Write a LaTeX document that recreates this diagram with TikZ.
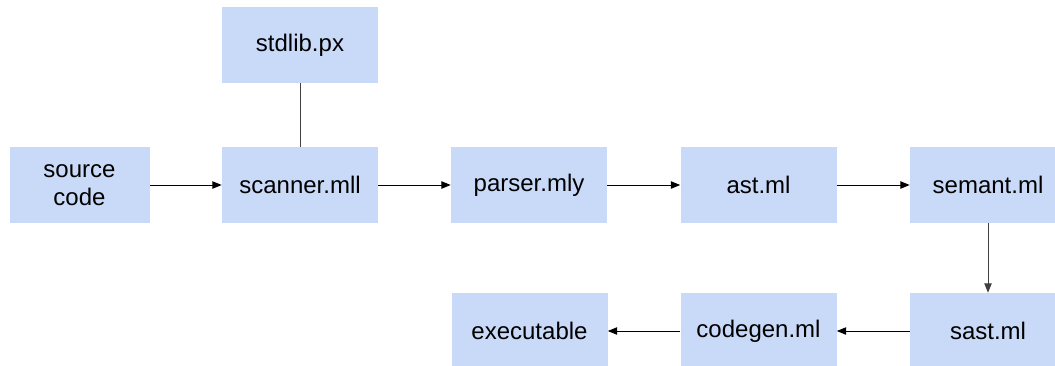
\documentclass[tikz,border=0pt]{standalone}
\usepackage{fontspec}
\setmainfont{Liberation Sans}
\usepackage{tikz}
\usetikzlibrary{arrows.meta}
\usepackage{xcolor}
\definecolor{stageblue}{RGB}{201,218,248}
\tikzset{
  stagebox/.style={fill=stageblue,draw=none,inner sep=0pt,align=center,
    minimum width=117pt,minimum height=57pt,font=\fontsize{18}{21}\selectfont},
  flow/.style={-{Triangle[length=7pt,width=5.5pt]},line width=0.75pt,black},
}

\begin{document}
\begin{tikzpicture}[x=0.75pt,y=-0.75pt]
        \useasboundingbox (0,0) rectangle (1055,365);
        % front end
        \node[stagebox,minimum width=105pt] (src)     at (79.5,185)  {source\\code};
        \node[stagebox]                     (scanner) at (300,185)   {scanner.mll};
        \node[stagebox]                     (stdlib)  at (300,45)    {stdlib.px};
        \node[stagebox]                     (parser)  at (529,185)   {parser.mly};
        \node[stagebox]                     (ast)     at (758.5,185) {ast.ml};
        \node[stagebox]                     (semant)  at (988,185)   {semant.ml};
        % back end
        \node[stagebox]                     (sast)    at (988,331)   {sast.ml};
        \node[stagebox]                     (codegen) at (758.5,331) {codegen.ml};
        \node[stagebox]                     (exe)     at (529.5,331) {executable};
        \draw[line width=0.75pt,black!75] (stdlib) -- (scanner);
        \draw[flow] (src) -- (scanner);
        \draw[flow] (scanner) -- (parser);
        \draw[flow] (parser) -- (ast);
        \draw[flow] (ast) -- (semant);
        \draw[flow,black!75] (semant) -- (sast);
        \draw[flow] (sast) -- (codegen);
        \draw[flow] (codegen) -- (exe);
      \end{tikzpicture}
\end{document}
